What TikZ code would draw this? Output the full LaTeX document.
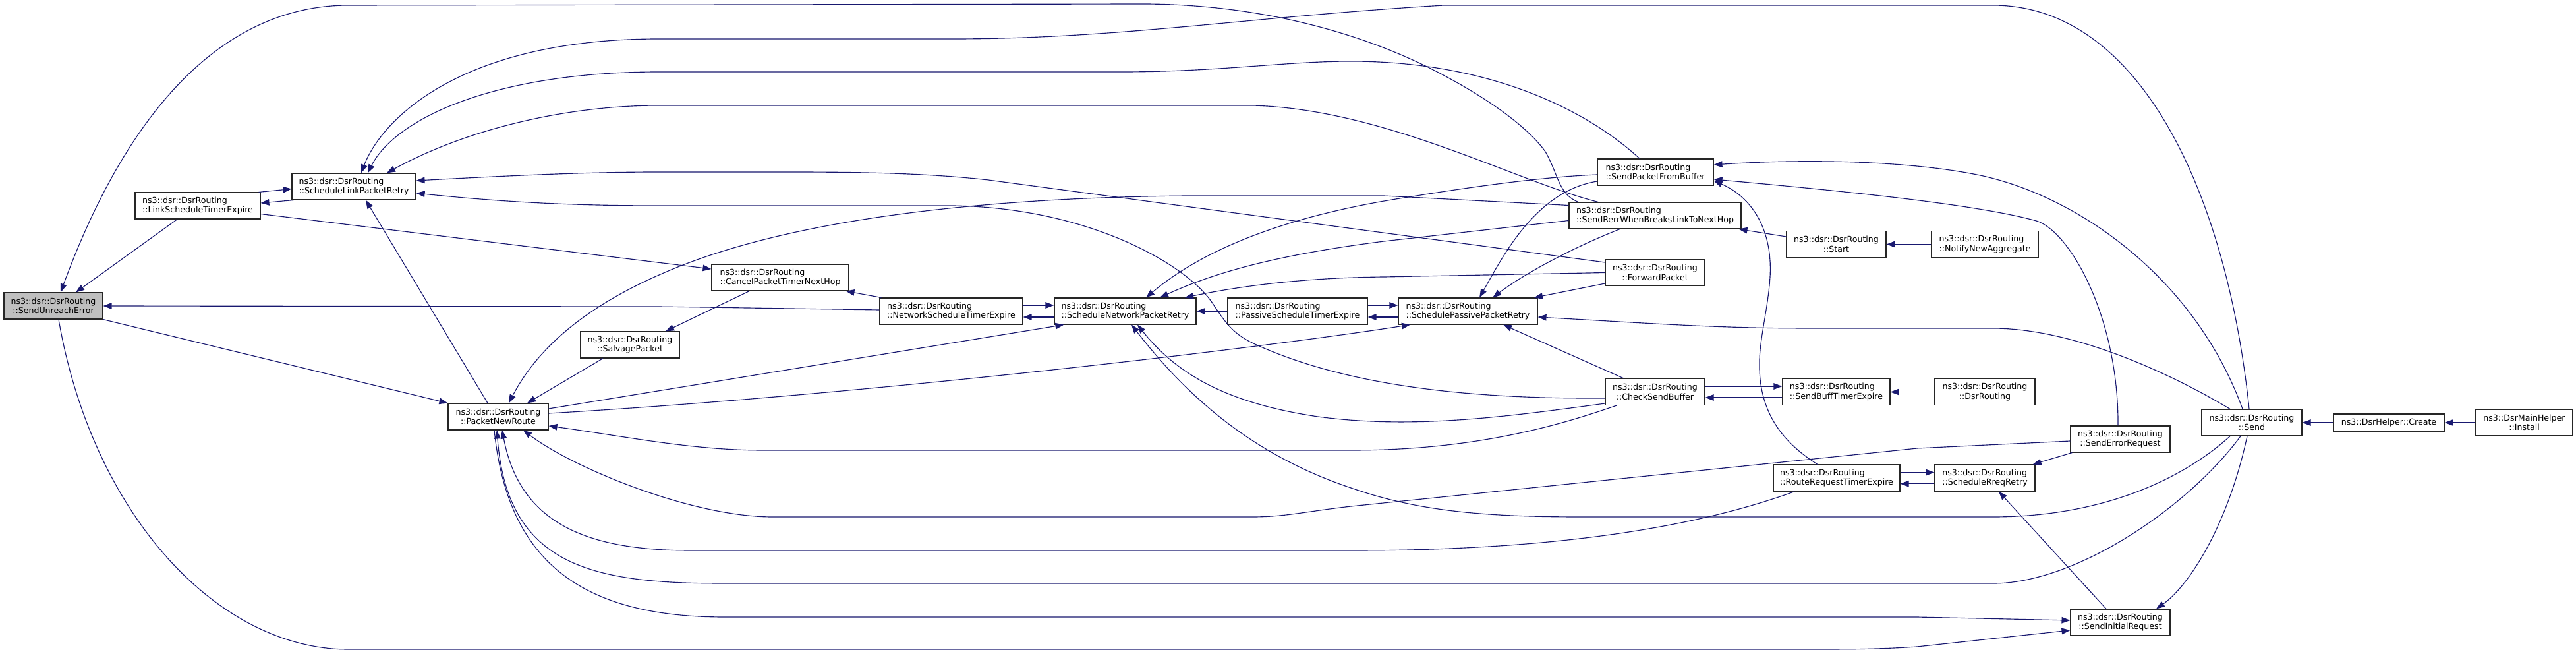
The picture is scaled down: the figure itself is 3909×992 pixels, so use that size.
\documentclass[tikz,border=0pt]{standalone}
\usepackage{fontspec}
\setmainfont{DejaVu Sans}
\usetikzlibrary{arrows.meta}
\definecolor{edgec}{HTML}{191970}
\definecolor{focusc}{HTML}{BFBFBF}
\definecolor{borderc}{HTML}{262626}
\newlength\twolA
\newlength\twolB
\newcommand\twol[2]{\settowidth\twolA{#1}\settowidth\twolB{#2}\ifdim\twolB>\twolA \makebox[\twolB][l]{#1}\else #1\fi\\#2}
\begin{document}
\begin{tikzpicture}[x=1pt,y=-1pt,
  nbox/.style={draw=borderc, line width=1.1pt, fill=white, inner xsep=3pt, inner ysep=0pt,
    minimum height=40pt, align=center, font=\fontsize{12.6}{14.5}\selectfont},
  edg/.style={draw=edgec, line width=1.15pt, {Triangle[length=13pt,width=9.5pt]}-}]
\useasboundingbox (0,0) rectangle (3909,992);
\fill[white] (0,0) rectangle (3909,992);

% nodes
\node[nbox,fill=focusc,minimum width=150pt] (A) at (81,464) {\twol{ns3::dsr::DsrRouting}{::SendUnreachError}};
\node[nbox,minimum width=190pt] (LSTE) at (300,312) {\twol{ns3::dsr::DsrRouting}{::LinkScheduleTimerExpire}};
\node[nbox,minimum width=188pt] (SLPR) at (537,283) {\twol{ns3::dsr::DsrRouting}{::ScheduleLinkPacketRetry}};
\node[nbox,minimum width=152pt] (PNR) at (756,632) {\twol{ns3::dsr::DsrRouting}{::PacketNewRoute}};
\node[nbox,minimum width=150pt] (SP) at (956,523) {\twol{ns3::dsr::DsrRouting}{::SalvagePacket}};
\node[nbox,minimum width=208pt] (CPT) at (1184,421) {\twol{ns3::dsr::DsrRouting}{::CancelPacketTimerNextHop}};
\node[nbox,minimum width=217pt] (NSTE) at (1443.5,472) {\twol{ns3::dsr::DsrRouting}{::NetworkScheduleTimerExpire}};
\node[nbox,minimum width=215pt] (SNPR) at (1707.5,472) {\twol{ns3::dsr::DsrRouting}{::ScheduleNetworkPacketRetry}};
\node[nbox,minimum width=212pt] (PSTE) at (1969,472) {\twol{ns3::dsr::DsrRouting}{::PassiveScheduleTimerExpire}};
\node[nbox,minimum width=211pt] (SPPR) at (2227.5,472) {\twol{ns3::dsr::DsrRouting}{::SchedulePassivePacketRetry}};
\node[nbox,minimum width=176pt] (SPFB) at (2512,261) {\twol{ns3::dsr::DsrRouting}{::SendPacketFromBuffer}};
\node[nbox,minimum width=261pt] (SRE) at (2511.5,327) {\twol{ns3::dsr::DsrRouting}{::SendRerrWhenBreaksLinkToNextHop}};
\node[nbox,minimum width=151pt] (FP) at (2511.5,413.5) {\twol{ns3::dsr::DsrRouting}{::ForwardPacket}};
\node[nbox,minimum width=151pt] (CSB) at (2511.5,594.5) {\twol{ns3::dsr::DsrRouting}{::CheckSendBuffer}};
\node[nbox,minimum width=151pt] (START) at (2786.5,370.5) {\twol{ns3::dsr::DsrRouting}{::Start}};
\node[nbox,minimum width=163pt] (SBTE) at (2786.5,594.5) {\twol{ns3::dsr::DsrRouting}{::SendBuffTimerExpire}};
\node[nbox,minimum width=192pt] (RRTE) at (2787,725) {\twol{ns3::dsr::DsrRouting}{::RouteRequestTimerExpire}};
\node[nbox,minimum width=162pt] (NNA) at (3012,370.5) {\twol{ns3::dsr::DsrRouting}{::NotifyNewAggregate}};
\node[nbox,minimum width=152pt] (DSR) at (3012,594.5) {\twol{ns3::dsr::DsrRouting}{::DsrRouting}};
\node[nbox,minimum width=151pt] (SER) at (3217.5,666) {\twol{ns3::dsr::DsrRouting}{::SendErrorRequest}};
\node[nbox,minimum width=152pt] (SRR) at (3012,725) {\twol{ns3::dsr::DsrRouting}{::ScheduleRreqRetry}};
\node[nbox,minimum width=151pt] (SIR) at (3217.5,944) {\twol{ns3::dsr::DsrRouting}{::SendInitialRequest}};
\node[nbox,minimum width=152pt] (SEND) at (3417,641) {\twol{ns3::dsr::DsrRouting}{::Send}};
\node[nbox,minimum width=168pt,minimum height=26pt] (CREATE) at (3625,641) {ns3::DsrHelper::Create};
\node[nbox,minimum width=147pt] (INSTALL) at (3830.5,641) {\twol{ns3::DsrMainHelper}{::Install}};

% edges (arrow tip at the first node)
\draw[edg] ([xshift=11pt]A.north) .. controls (200,150) and (350,8) .. (529,8) -- (1733,6) .. controls (1900,6) and (2050,45) .. (2163,100) .. controls (2260,148) and (2320,195) .. (2345,230) .. controls (2365,265) and (2365,295) .. ([xshift=-116.5pt]SRE.north);
\draw[edg] ([xshift=34pt]A.north) -- ([xshift=-31pt]LSTE.south);
\draw[edg] (A.east) -- (1000,465) -- ([yshift=2pt]NSTE.west);
\draw[edg] (PNR.north west) -- (A.south east);
\draw[edg] ([yshift=-12pt]SIR.west) -- (2909,981) .. controls (2850,985) and (2800,985) .. (2750,985) -- (529,985) .. controls (330,985) and (140,780) .. ([xshift=8pt]A.south);

\draw[edg] ([yshift=-3.5pt]SLPR.west) -- ([xshift=-3pt]LSTE.north east);
\draw[edg] ([yshift=4pt]LSTE.east) -- ([xshift=3pt]SLPR.south west);
\draw[edg] ([yshift=13pt]CPT.west) -- ([yshift=-12.5pt]LSTE.east);
\draw[edg] ([xshift=18pt]SLPR.south) -- ([xshift=-16pt]PNR.north);
\draw[edg] ([xshift=11pt]SLPR.north) .. controls (580,180) and (700,59) .. (1000,59) -- (1446,59) .. controls (1700,59) and (1900,25) .. (2191,8) -- (3024,8) .. controls (3250,8) and (3380,300) .. ([xshift=-4pt]SEND.north);
\draw[edg] ([xshift=21pt]SLPR.north) .. controls (600,180) and (750,109) .. (1000,109) -- (1702,109) .. controls (1850,109) and (1950,93) .. (2050,93) .. controls (2250,93) and (2400,160) .. ([xshift=-24pt]SPFB.north);
\draw[edg] ([xshift=50pt]SLPR.north) .. controls (700,200) and (850,160) .. (1000,160) -- (1900,160) .. controls (2100,165) and (2300,275) .. ([xshift=-86.5pt]SRE.north);
\draw[edg] ([yshift=9pt]SLPR.east) .. controls (800,265) and (900,261) .. (1000,261) -- (1191,261) .. controls (1300,261) and (1400,262) .. (1500,273) -- ([yshift=15.5pt]FP.west);
\draw[edg] ([yshift=-10pt]SLPR.east) .. controls (750,305) and (850,312) .. (1000,312) -- (1446,312) .. controls (1650,315) and (1800,400) .. (1840,460) .. controls (1860,490) and (1870,505) .. (1900,520) .. controls (2050,590) and (2250,605) .. ([yshift=-9.5pt]CSB.west);

\draw[edg] ([xshift=44pt]PNR.north) -- ([xshift=-41pt]SP.south);
\draw[edg] ([xshift=54pt]SP.north) -- ([xshift=-47pt]CPT.south);
\draw[edg] ([xshift=-5pt]CPT.south east) -- ([xshift=3pt]NSTE.north west);
\draw[edg] ([yshift=9pt]SNPR.west) -- ([yshift=9pt]NSTE.east);
\draw[edg] ([yshift=-9pt]NSTE.east) -- ([yshift=-9pt]SNPR.west);
\draw[edg] ([xshift=15pt]SNPR.south west) -- ([yshift=12pt]PNR.east);
\draw[edg] ([xshift=-87.5pt]SPPR.south) .. controls (1900,530) and (1300,600) .. ([yshift=5pt]PNR.east);
\draw[edg] ([yshift=9pt]SPPR.west) -- ([yshift=9pt]PSTE.east);
\draw[edg] ([yshift=-9pt]PSTE.east) -- ([yshift=-9pt]SPPR.west);
\draw[edg] (SNPR.east) -- (PSTE.west);
\draw[edg] ([xshift=31.5pt]SNPR.north) .. controls (1800,400) and (1900,340) .. (2100,305) .. controls (2250,280) and (2350,268) .. ([yshift=-4pt]SPFB.west);
\draw[edg] ([xshift=52.5pt]SNPR.north) .. controls (1850,410) and (1950,385) .. (2100,366) -- ([yshift=-7.5pt]SRE.west);
\draw[edg] ([xshift=90.5pt]SNPR.north) .. controls (1900,430) and (2000,421) .. (2100,420) -- (FP.west);
\draw[edg] ([xshift=18.5pt]SNPR.south) .. controls (1780,560) and (1850,610) .. (2000,632) .. controls (2150,652) and (2300,630) .. ([yshift=-17.5pt]CSB.west);
\draw[edg] ([xshift=9.5pt]SNPR.south) .. controls (1800,600) and (1900,690) .. (2050,740) .. controls (2150,775) and (2250,784) .. (2400,784) -- (3024,784) .. controls (3200,784) and (3320,720) .. ([xshift=-33pt]SEND.south);

\draw[edg] ([xshift=16pt]PNR.north) .. controls (820,520) and (900,460) .. (1007,414) .. controls (1200,330) and (1500,300) .. (1800,297) -- (2100,297) -- ([yshift=15.5pt]SRE.west);
\draw[edg] ([yshift=-14pt]PNR.east) .. controls (950,662) and (1050,683) .. (1159,683) -- (2050,683) .. controls (2250,683) and (2380,640) .. ([xshift=-58.5pt]CSB.south);
\draw[edg] ([xshift=38pt]PNR.south) .. controls (870,710) and (1050,784) .. (1172,784) -- (1900,784) .. controls (1950,784) and (1980,776) .. (2050,768) -- (2909,680) -- ([yshift=-3pt]SER.west);
\draw[edg] ([xshift=6pt]PNR.south) .. controls (790,800) and (900,835) .. (1050,835) -- (2050,835) .. controls (2400,835) and (2600,790) .. ([xshift=-64pt]RRTE.south);
\draw[edg] ([xshift=-2pt]PNR.south) .. controls (770,860) and (900,885) .. (1100,885) -- (3024,885) .. controls (3150,885) and (3320,770) .. ([xshift=-17pt]SEND.south);
\draw[edg] ([yshift=3pt]SIR.west) -- (2909,936) -- (1100,936) .. controls (880,936) and (770,850) .. ([xshift=-6pt]PNR.south);

\draw[edg] ([xshift=17.5pt]SPPR.north) .. controls (2280,390) and (2330,290) .. ([yshift=-14pt]SPFB.west);
\draw[edg] ([xshift=37.5pt]SPPR.north) .. controls (2320,410) and (2400,370) .. ([xshift=-53.5pt]SRE.south);
\draw[edg] ([xshift=100.5pt]SPPR.north) -- ([yshift=-16.5pt]FP.west);
\draw[edg] ([yshift=-9pt]SPPR.east) .. controls (2500,490) and (2600,498) .. (2750,498) -- (3024,498) .. controls (3150,498) and (3300,570) .. ([xshift=-33pt]SEND.north);
\draw[edg] ([xshift=53.5pt]SPPR.south) -- ([xshift=-47.5pt]CSB.north);

\draw[edg] ([yshift=11pt]SPFB.east) .. controls (2750,240) and (2900,245) .. (3000,265) .. controls (3150,295) and (3330,420) .. ([xshift=-14pt]SEND.north);
\draw[edg] ([yshift=-11pt]SPFB.east) .. controls (2800,290) and (3000,310) .. (3090,335) .. controls (3140,350) and (3215,480) .. ([xshift=-3.5pt]SER.north);
\draw[edg] ([yshift=-13pt]SPFB.east) .. controls (2660,300) and (2690,350) .. (2686,420) .. controls (2683,470) and (2668,520) .. (2670,560) .. controls (2672,640) and (2720,680) .. ([xshift=-29pt]RRTE.north);

\draw[edg] ([xshift=-4pt]SRE.south east) -- ([yshift=11.5pt]START.west);
\draw[edg] (START.east) -- (NNA.west);
\draw[edg] ([yshift=8.5pt]SBTE.west) -- ([yshift=8.5pt]CSB.east);
\draw[edg] ([yshift=-8.5pt]CSB.east) -- ([yshift=-8.5pt]SBTE.west);
\draw[edg] (SBTE.east) -- (DSR.west);
\draw[edg] ([yshift=8.4pt]SRR.west) -- ([yshift=8.4pt]RRTE.east);
\draw[edg] ([yshift=-8.7pt]RRTE.east) -- ([yshift=-8.7pt]SRR.west);
\draw[edg] ([xshift=-4pt]SRR.north east) -- ([xshift=3pt]SER.south west);
\draw[edg] ([xshift=21pt]SRR.south) -- ([xshift=-21.5pt]SIR.north);
\draw[edg] ([xshift=54.5pt]SIR.north) .. controls (3320,890) and (3380,800) .. ([xshift=-7pt]SEND.south);
\draw[edg] (SEND.east) -- (CREATE.west);
\draw[edg] (CREATE.east) -- (INSTALL.west);
\end{tikzpicture}
\end{document}
